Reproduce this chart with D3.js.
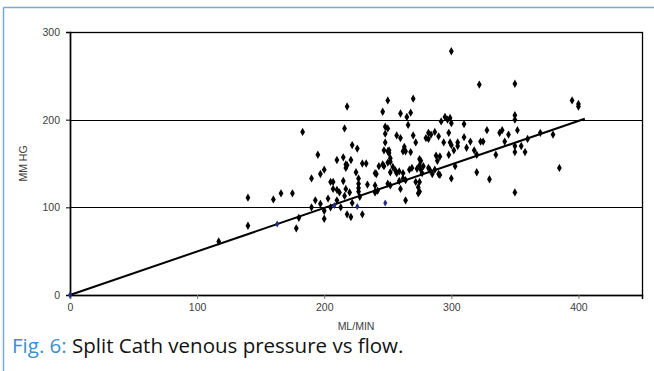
<!DOCTYPE html>
<html>
<head>
<meta charset="utf-8">
<script src="https://cdn.jsdelivr.net/npm/d3@7"></script>
<style>
  body { margin: 0; background: #fff; }
  svg { display: block; }
</style>
</head>
<body>
<svg id="chart"></svg>
<script>
// flow (ML/MIN) and pressure (MM HG) readings
const flow = [
  117, 140, 140, 160, 166, 175, 178, 180, 183, 190, 190, 193, 195, 197, 197, 200, 200, 200, 203, 205,
  205, 207, 207, 210, 210, 210, 212, 213, 215, 215, 216, 216, 217, 217, 217, 218, 218, 218, 220, 221,
  221, 222, 222, 225, 226, 227, 227, 227, 227, 228, 230, 230, 233, 234, 240, 240, 240, 240, 242, 243,
  241, 246, 246, 247, 247, 248, 248, 248, 250, 250, 250, 250, 250, 251, 251, 252, 252, 252, 252, 254,
  256, 257, 257, 259, 259, 260, 260, 260, 262, 262, 262, 263, 264, 264, 264, 265, 266, 267, 268, 268,
  269, 270, 270, 272, 272, 273, 274, 274, 275, 275, 275, 275, 276, 276, 277, 278, 280, 282, 282, 282,
  283, 284, 285, 287, 287, 288, 289, 290, 290, 291, 291, 292, 294, 295, 297, 298, 298, 299, 299, 300,
  300, 300, 300, 302, 303, 305, 305, 310, 310, 312, 315, 318, 320, 320, 322, 323, 325, 328, 330, 335,
  338, 340, 342, 345, 350, 350, 350, 350, 350, 350, 352, 355, 358, 360, 370, 380, 385, 395, 400, 400
];
const pressure = [
   61, 111,  79, 109, 116, 116,  76,  88, 186, 100, 133, 108, 160, 104, 138,  87,  96, 143, 110, 100,
  129, 129, 121, 108, 120, 154, 117, 100, 157, 130, 190, 113, 149, 145, 121, 215, 148,  92, 117, 154,
   89, 171, 105, 140, 167, 133, 127, 122, 118, 112, 150,  92, 150, 126, 139, 125, 117, 118, 119, 147,
  138, 209, 149, 147, 165, 192, 184, 174, 222, 190, 164, 151, 127, 165, 162, 152, 156, 125, 140, 146,
  142, 182, 139, 141, 130, 179, 121, 207, 164, 133, 139, 169, 164, 131, 108, 203, 194, 143, 208, 163,
  145, 224, 182, 174, 129, 144, 116, 123, 155, 148, 118, 129, 153, 143, 139, 147, 179, 185, 178, 145,
  143, 183, 138, 186, 143, 159, 153, 181, 138, 158, 137, 198, 174, 203, 200, 185, 160, 202, 174, 278,
  196, 171, 133, 165, 147, 174, 170, 195, 180, 168, 175, 165, 160, 140, 240, 175, 175, 188, 132, 160,
  185, 188, 175, 183, 241, 205, 200, 170, 163, 117, 188, 170, 163, 178, 185, 183, 145, 222, 218, 215
];

// a few markers that show in dark blue
const blueFlow = [0, 163, 208, 226, 248];
const bluePressure = [0, 81, 102, 101, 105];

// linear trend through the origin
const trendFlow = [0, 405];
const trendPressure = [0, 201];

const xTicks = [0, 100, 200, 300, 400];
const yTicks = [0, 100, 200, 300];

const width = 654, height = 371;
const margin = { top: 32, right: 12, bottom: 76, left: 70 };
const innerW = width - margin.left - margin.right;
const innerH = height - margin.top - margin.bottom;

const labelFont = "Arial, 'Liberation Sans', sans-serif";

const svg = d3.select("#chart")
  .attr("width", width)
  .attr("height", height);

// light blue page frame on top and left
svg.append("line").attr("x1", 3.5).attr("x2", width).attr("y1", 7.5).attr("y2", 7.5)
  .attr("stroke", "#7aa6d8").attr("stroke-width", 1.5);
svg.append("line").attr("x1", 3.5).attr("x2", 3.5).attr("y1", 7.5).attr("y2", height)
  .attr("stroke", "#7aa6d8").attr("stroke-width", 1.5);

const g = svg.append("g")
  .attr("transform", "translate(" + margin.left + "," + margin.top + ")");

const x = d3.scaleLinear().domain([0, 450]).range([0, innerW]);
const y = d3.scaleLinear().domain([0, 300]).range([innerH, 0]);

// horizontal gridlines
g.append("g")
  .selectAll("line")
  .data(yTicks.filter(d => d > 0))
  .enter().append("line")
  .attr("x1", 0).attr("x2", innerW)
  .attr("y1", d => Math.round(y(d)) + 0.5).attr("y2", d => Math.round(y(d)) + 0.5)
  .attr("stroke", "#000").attr("stroke-width", 1);

// plot frame
g.append("rect")
  .attr("x", 0.5).attr("y", 0.5)
  .attr("width", innerW).attr("height", innerH)
  .attr("fill", "none").attr("stroke", "#000").attr("stroke-width", 1.3);

const yAxis = g.append("g")
  .call(d3.axisLeft(y).tickValues(yTicks).tickSize(4).tickPadding(6).tickFormat(d3.format("d")));
yAxis.select(".domain").attr("stroke-width", 1.5);
yAxis.selectAll("text").attr("font-family", labelFont)
  .attr("font-size", "10.5px").attr("fill", "#404040");

const xAxis = g.append("g")
  .attr("transform", "translate(0," + innerH + ")")
  .call(d3.axisBottom(x).tickValues(xTicks).tickSize(4).tickPadding(5).tickFormat(d3.format("d")));
xAxis.select(".domain").attr("stroke-width", 1.5);
xAxis.selectAll(".tick line").attr("stroke", "#777");
xAxis.selectAll("text").attr("font-family", labelFont)
  .attr("font-size", "10.5px").attr("fill", "#404040");

// trend line
g.append("line")
  .attr("x1", x(trendFlow[0])).attr("y1", y(trendPressure[0]))
  .attr("x2", x(trendFlow[1])).attr("y2", y(trendPressure[1]))
  .attr("stroke", "#000").attr("stroke-width", 2);

const diamond = d3.symbol().type(d3.symbolDiamond).size(20);

g.selectAll(".pt")
  .data(flow.map((f, i) => [f, pressure[i]]))
  .enter().append("path")
  .attr("class", "pt")
  .attr("d", diamond)
  .attr("transform", d => "translate(" + x(d[0]) + "," + y(d[1]) + ")")
  .attr("fill", "#000");

g.selectAll(".bpt")
  .data(blueFlow.map((f, i) => [f, bluePressure[i]]))
  .enter().append("path")
  .attr("class", "bpt")
  .attr("d", d3.symbol().type(d3.symbolDiamond).size(14))
  .attr("transform", d => "translate(" + x(d[0]) + "," + y(d[1]) + ")")
  .attr("fill", "#1f2a8a");

// axis titles
svg.append("text")
  .attr("x", margin.left + innerW / 2).attr("y", 330)
  .attr("text-anchor", "middle")
  .attr("font-family", labelFont).attr("font-size", "10.5px").attr("fill", "#404040")
  .text("ML/MIN");

svg.append("text")
  .attr("transform", "translate(27," + (margin.top + innerH / 2) + ") rotate(-90)")
  .attr("text-anchor", "middle")
  .attr("font-family", labelFont).attr("font-size", "10.5px").attr("fill", "#404040")
  .text("MM HG");

// figure caption
const cap = svg.append("text")
  .attr("x", 12).attr("y", 353)
  .attr("font-family", "'Open Sans', 'Noto Sans', sans-serif").attr("font-size", "20.5px");
cap.append("tspan").attr("fill", "#3a8fd0").text("Fig. 6: ");
cap.append("tspan").attr("fill", "#111").text("Split Cath venous pressure vs flow.");
</script>
</body>
</html>
